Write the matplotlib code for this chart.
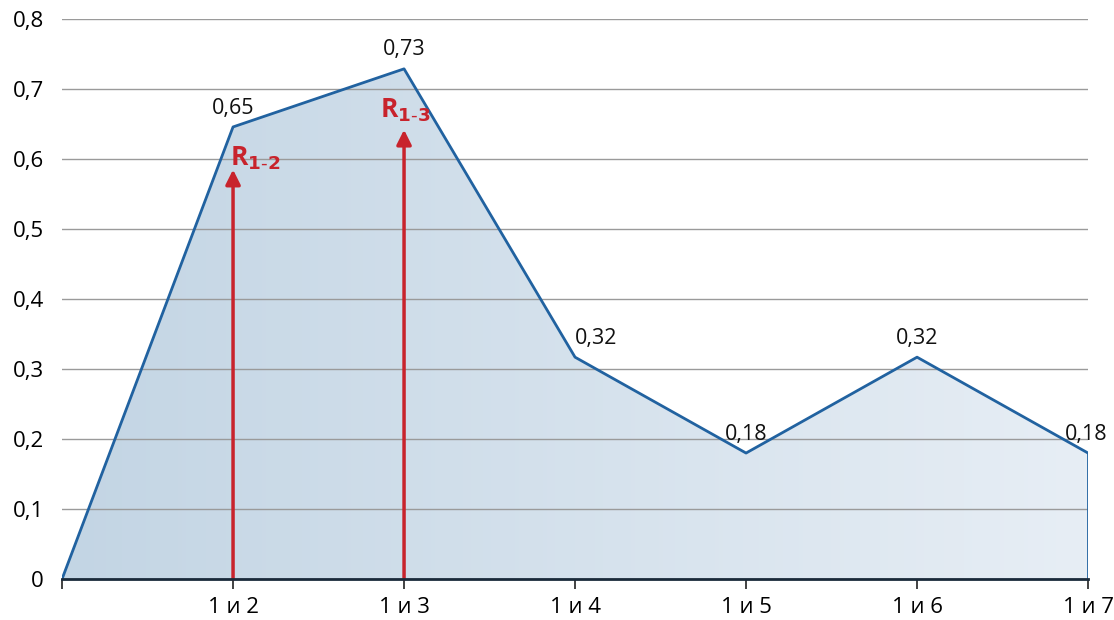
import numpy as np
import matplotlib.pyplot as plt
from matplotlib.colors import LinearSegmentedColormap

plt.rcParams['font.family'] = ['Open Sans', 'DejaVu Sans']

# ---- data ----
x_labels = ['', '1 и 2', '1 и 3', '1 и 4', '1 и 5', '1 и 6', '1 и 7']
values = [0, 0.646, 0.729, 0.317, 0.18, 0.317, 0.18]
point_labels = ['', '0,65', '0,73', '0,32', '0,18', '0,32', '0,18']
arrow_x = [1, 2]
arrow_top = [0.585, 0.642]
arrow_names = ['R$_{\\mathbf{1\\text{-}2}}$', 'R$_{\\mathbf{1\\text{-}3}}$']
y_ticks = [0, 0.1, 0.2, 0.3, 0.4, 0.5, 0.6, 0.7, 0.8]
y_ticklabels = ['0', '0,1', '0,2', '0,3', '0,4', '0,5', '0,6', '0,7', '0,8']

LINE = '#2162a0'
RED = '#c8232c'

fig = plt.figure(figsize=(11.14, 6.2), dpi=100)
ax = fig.add_axes([0.0557, 0.0661, 0.921, 0.903])

xs = np.arange(len(values))
ax.set_xlim(0, len(values) - 1)
ax.set_ylim(0, 0.8)

# gradient fill under the line
cmap = LinearSegmentedColormap.from_list('fillgrad', ['#c3d5e4', '#e7eef5'])
grad = np.linspace(0, 1, 256).reshape(1, -1)
img = ax.imshow(grad, cmap=cmap, aspect='auto', extent=[0, len(values) - 1, 0, 0.8],
                origin='lower', zorder=1)
clip = plt.Polygon(np.column_stack([np.r_[xs, xs[-1], 0], np.r_[values, 0, 0]]),
                   transform=ax.transData, facecolor='none', edgecolor='none')
ax.add_patch(clip)
img.set_clip_path(clip)

ax.grid(axis='y', color='#9a9a9a', linewidth=1.0)
ax.set_axisbelow(False)
for gl in ax.get_ygridlines():
    gl.set_zorder(2)

ax.plot(xs, values, color=LINE, linewidth=2, zorder=4)
ax.plot([xs[-1], xs[-1]], [0, values[-1]], color=LINE, linewidth=2, zorder=4)

# small horizontal nudges so labels sit as in the original
label_dx = [0, 0, 0, 0.12, 0, 0, -0.01]
for i in range(1, len(values)):
    ax.text(xs[i] + label_dx[i], values[i] + 0.012, point_labels[i], ha='center',
            va='bottom', fontsize=15.5, color='#111111', zorder=6)

# red arrows
name_dx = [-0.02, -0.14]
name_dy = [0.006, 0.018]
for xa, top, name, dx, dy in zip(arrow_x, arrow_top, arrow_names, name_dx, name_dy):
    ax.annotate('', xy=(xa, top), xytext=(xa, 0),
                arrowprops=dict(arrowstyle='-|>', color=RED, lw=2.5,
                                mutation_scale=22, shrinkA=0, shrinkB=0), zorder=5)
    ax.text(xa + dx, top + dy, name, ha='left', va='baseline', fontsize=19,
            fontweight='bold', color=RED, zorder=6)

ax.set_yticks(y_ticks)
ax.set_yticklabels(y_ticklabels)
ax.set_xticks(xs)
ax.set_xticklabels(x_labels)
ax.tick_params(axis='y', length=0, labelsize=16, pad=13)
ax.tick_params(axis='x', length=7, width=1.2, color='#222222', labelsize=16, pad=6,
               direction='out')

for side in ['top', 'right', 'left']:
    ax.spines[side].set_visible(False)
ax.spines['bottom'].set_color('#1a2a3a')
ax.spines['bottom'].set_linewidth(2)
ax.spines['bottom'].set_zorder(7)

fig.savefig('out.png', dpi=100)
